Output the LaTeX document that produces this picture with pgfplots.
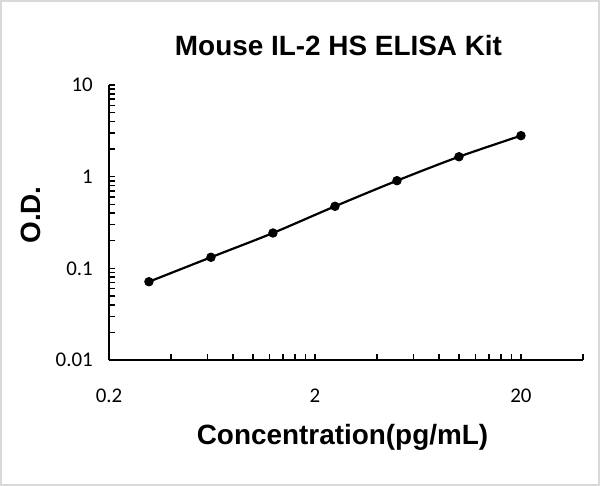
\documentclass[border=0pt]{standalone}
\usepackage{pgfplots}
\pgfplotsset{compat=1.18}
\usepackage{fontspec}
\setmainfont{Liberation Sans}
\newfontfamily\calibri{Carlito}
\begin{document}
\begin{tikzpicture}
\path[use as bounding box] (0,0) rectangle (600bp,486bp);
\fill[white] (0,0) rectangle (600bp,486bp);
\draw[color={rgb,255:red,217;green,217;blue,217}, line width=2bp] (1bp,1bp) rectangle (599bp,485bp);
\begin{axis}[
  at={(109bp,126bp)}, anchor=south west,
  scale only axis, width=474bp, height=275bp,
  xmode=log, ymode=log,
  xmin=0.2, xmax=40, ymin=0.01, ymax=10,
  axis x line*=bottom, axis y line*=left,
  axis line style={line width=2bp, -},
  xtick={0.2,2,20}, xticklabels={0.2,2,20},
  minor xtick={0.4,0.6,0.8,1,1.2,1.4,1.6,1.8,4,6,8,10,12,14,16,18,40},
  ytick={0.01,0.1,1,10}, yticklabels={0.01,0.1,1,10},
  minor ytick={0.02,0.03,0.04,0.05,0.06,0.07,0.08,0.09,0.2,0.3,0.4,0.5,0.6,0.7,0.8,0.9,2,3,4,5,6,7,8,9},
  tick align=inside,
  major tick length=6bp, minor tick length=6bp,
  every tick/.style={black, line width=1.5bp},
  x tick label style={font=\calibri\fontsize{21}{25}\selectfont, anchor=base, inner sep=0pt, yshift=-42.5bp},
  y tick label style={font=\calibri\fontsize{21}{25}\selectfont, anchor=east, inner sep=0pt, xshift=-16bp},
  clip=false,
]
\addplot[black, line width=2.2bp, smooth, mark=*, mark size=4.2bp, mark options={solid, fill=black, line width=1bp}]
  coordinates {(0.3125,0.0714) (0.625,0.132) (1.25,0.243) (2.5,0.475) (5,0.904) (10,1.65) (20,2.80)};
\end{axis}
\node[anchor=base, font=\bfseries\fontsize{28}{33}\selectfont] at (338.5bp,430bp) {Mouse IL-2 HS ELISA Kit};
\node[anchor=base, font=\bfseries\fontsize{28}{33}\selectfont] at (342.5bp,41bp) {Concentration(pg/mL)};
\node[anchor=base, rotate=90, font=\bfseries\fontsize{28}{33}\selectfont] at (40bp,271bp) {O.D.};
\end{tikzpicture}
\end{document}
